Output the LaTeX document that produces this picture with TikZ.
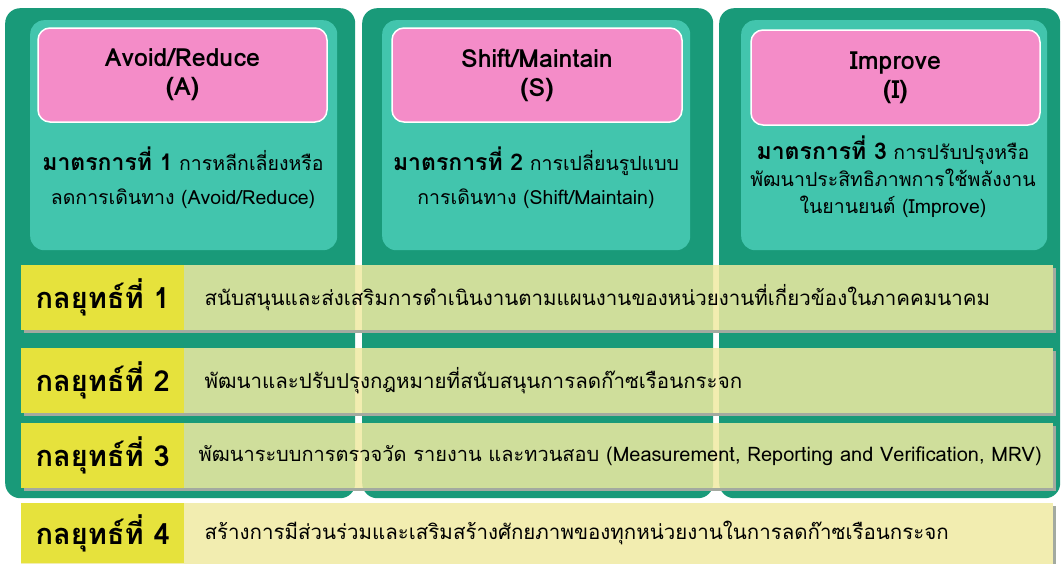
\documentclass[tikz,border=0pt]{standalone}
\usepackage{fontspec}
\setmainfont{Loma}[Script=Thai]
\usetikzlibrary{positioning}
\definecolor{deepgreen}{HTML}{199A79}
\definecolor{panelteal}{HTML}{42C5AD}
\definecolor{headpink}{HTML}{F48CC8}
\definecolor{barfill}{HTML}{F0EAA2}
\definecolor{tagyellow}{HTML}{E6E23C}
\definecolor{barshadow}{HTML}{A3AAA0}
\tikzset{
    % Column frame
    column/.style={
        rectangle,
        rounded corners=15pt,
        anchor=north west,
        inner sep=0pt,
        fill=deepgreen
    },
    % Light inner panel
    panel/.style={
        rectangle,
        rounded corners=14pt,
        anchor=north west,
        inner sep=0pt,
        fill=panelteal
    },
    % Pink heading box
    head/.style={
        rectangle,
        rounded corners=12pt,
        align=center,
        inner sep=0pt,
        fill=headpink,
        draw=white,
        line width=1.5pt,
        font=\fontsize{25}{29}\selectfont\bfseries
    },
    % Measure text
    measure/.style={
        align=center,
        inner sep=0pt,
        font=\fontsize{19.5}{34}\selectfont
    },
    % Strategy bar
    bar/.style={
        rectangle,
        anchor=north west,
        inner sep=0pt,
        minimum width=1032pt,
        fill=barfill,
        fill opacity=0.85
    },
    % Strategy tag
    tag/.style={
        rectangle,
        anchor=north west,
        inner sep=0pt,
        minimum width=163pt,
        fill=tagyellow,
        font=\fontsize{29}{34}\selectfont\bfseries
    },
    bar text/.style={
        anchor=west,
        inner sep=0pt,
        font=\fontsize{20.5}{24}\selectfont
    }
}
\newcommand{\mlabel}[1]{{\fontsize{23}{34}\selectfont\bfseries #1}}
\begin{document}
\begin{tikzpicture}[x=1pt,y=-1pt]
    \useasboundingbox (0,0) rectangle (1063,563);
    \clip (0,0) rectangle (1063,563);

    % Columns
    \node[column, minimum width=350pt, minimum height=490pt] (av) at (5,8) {};
    \node[column, minimum width=351pt, minimum height=490pt] (sh) at (362,8) {};
    \node[column, minimum width=341pt, minimum height=490pt] (im) at (719,8) {};

    \node[panel, minimum width=307pt, minimum height=230pt] (avp) at (30,20) {};
    \node[panel, minimum width=308pt, minimum height=230pt] (shp) at (382,20) {};
    \node[panel, minimum width=306pt, minimum height=230pt] (imp) at (741,20) {};

    % Headings
    \node[head, minimum width=289pt, minimum height=94pt] (avh) at (182.5,75) {Avoid/Reduce\\(A)};
    \node[head, minimum width=290pt, minimum height=94pt] (shh) at (537,75) {Shift/Maintain\\(S)};
    \node[head, minimum width=289pt, minimum height=95pt] (imh) at (895.5,77.5) {Improve\\(I)};

    % Measures
    \node[measure] (avm) at (183,178) {\mlabel{มาตรการที่ 1} การหลีกเลี่ยงหรือ\\ลดการเดินทาง (Avoid/Reduce)};
    \node[measure] (shm) at (536,178) {\mlabel{มาตรการที่ 2} การเปลี่ยนรูปแบบ\\การเดินทาง (Shift/Maintain)};
    \node[measure, font=\fontsize{19.5}{27}\selectfont] (imm) at (893,177) {\mlabel{มาตรการที่ 3} การปรับปรุงหรือ\\พัฒนาประสิทธิภาพการใช้พลังงาน\\ในยานยนต์ (Improve)};

    % Strategy bars
    \node[bar, minimum height=65pt] (b1) at (21,265) {};
    \node[bar, minimum height=65pt] (b2) at (21,348) {};
    \node[bar, minimum height=65pt] (b3) at (21,423) {};
    \node[bar, minimum height=72pt] (b4) at (21,503) {};
    \foreach \b in {b1,b2,b3,b4} {
        \fill[barshadow] ([yshift=-3pt]\b.north east) rectangle ([shift={(3pt,-3pt)}]\b.south east);
        \fill[barshadow] ([xshift=3pt]\b.south west) rectangle ([shift={(3pt,-3pt)}]\b.south east);
    }

    \node[tag, minimum height=65pt] (t1) at (21,265) {กลยุทธ์ที่ 1};
    \node[tag, minimum height=65pt] (t2) at (21,348) {กลยุทธ์ที่ 2};
    \node[tag, minimum height=65pt] (t3) at (21,423) {กลยุทธ์ที่ 3};
    \node[tag, minimum height=60pt] (t4) at (21,503) {กลยุทธ์ที่ 4};

    \node[bar text, right=20pt of t1] (s1) {สนับสนุนและส่งเสริมการดำเนินงานตามแผนงานของหน่วยงานที่เกี่ยวข้องในภาคคมนาคม};
    \node[bar text, right=20pt of t2] (s2) {พัฒนาและปรับปรุงกฎหมายที่สนับสนุนการลดก๊าซเรือนกระจก};
    \node[bar text, right=14pt of t3, font=\fontsize{20}{24}\selectfont] (s3) {พัฒนาระบบการตรวจวัด รายงาน และทวนสอบ (Measurement, Reporting and Verification, MRV)};
    \node[bar text, right=20pt of t4] (s4) {สร้างการมีส่วนร่วมและเสริมสร้างศักยภาพของทุกหน่วยงานในการลดก๊าซเรือนกระจก};

\end{tikzpicture}
\end{document}
